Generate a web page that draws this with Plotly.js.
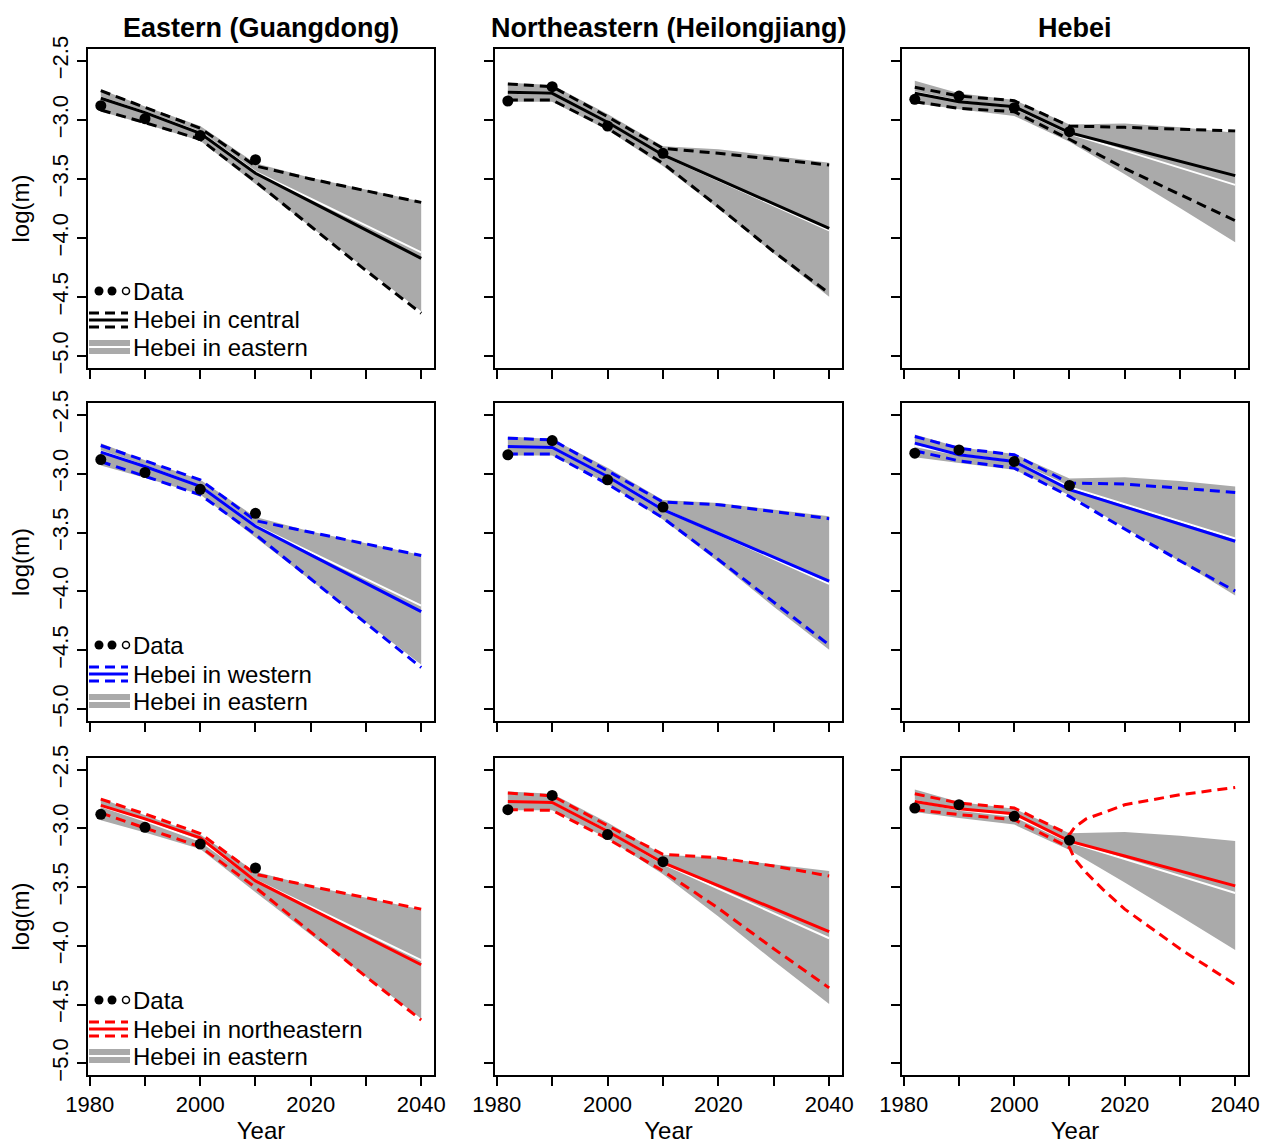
<!DOCTYPE html>
<html>
<head>
<meta charset="utf-8">
<script src="https://cdn.plot.ly/plotly-3.0.1.min.js"></script>
<style>html,body{margin:0;padding:0;background:#fff;}#chart{width:1270px;height:1144px;}</style>
</head>
<body>
<div id="chart"></div>
<script>
// ---------------- DATA ----------------
const YEARS = [1982, 1990, 2000, 2010, 2020, 2030, 2040];
const YEARS_FINE = [1982, 1990, 2000, 2010, 2011, 2013, 2016, 2020, 2030, 2040];
const DATA_YEARS = [1982, 1990, 2000, 2010];

const COL_TITLES = ["Eastern (Guangdong)", "Northeastern (Heilongjiang)", "Hebei"];
const ALT_LABELS = ["Hebei in central", "Hebei in western", "Hebei in northeastern"];
const EAST_LABEL = "Hebei in eastern";
const DATA_LABEL = "Data";
const X_TICKS = [1980, 1990, 2000, 2010, 2020, 2030, 2040];
const X_TICKTEXT = ["1980", "", "2000", "", "2020", "", "2040"];
const Y_TICKS = [-5.0, -4.5, -4.0, -3.5, -3.0, -2.5];

// observed data points
const DATA_GD  = [-2.880, -2.990, -3.133, -3.337];
const DATA_HLJ = [-2.840, -2.719, -3.052, -3.283];
const DATA_HB  = [-2.826, -2.798, -2.897, -3.100];

// "Hebei in eastern" model (grey band + white median), per column
const EAST_GD_HI  = [-2.742, -2.887, -3.052, -3.368, -3.490, -3.590, -3.690];
const EAST_GD_LO  = [-2.930, -3.035, -3.176, -3.543, -3.905, -4.265, -4.620];
const EAST_GD_MED = [-2.810, -2.935, -3.105, -3.440, -3.667, -3.893, -4.121];

const EAST_HLJ_HI  = [-2.685, -2.705, -2.950, -3.224, -3.249, -3.306, -3.362];
const EAST_HLJ_LO  = [-2.846, -2.846, -3.086, -3.390, -3.749, -4.130, -4.496];
const EAST_HLJ_MED = [-2.770, -2.780, -3.020, -3.300, -3.512, -3.724, -3.935];

const EAST_HB_HI  = [-2.668, -2.775, -2.832, -3.040, -3.030, -3.062, -3.108];
const EAST_HB_LO  = [-2.860, -2.910, -2.967, -3.184, -3.460, -3.745, -4.035];
const EAST_HB_MED = [-2.765, -2.840, -2.895, -3.115, -3.260, -3.405, -3.550];

// "Hebei in central" model (black)
const CENT_GD_MED = [-2.817, -2.939, -3.114, -3.452, -3.692, -3.932, -4.172];
const CENT_GD_HI  = [-2.753, -2.897, -3.071, -3.390, -3.500, -3.600, -3.698];
const CENT_GD_LO  = [-2.916, -3.023, -3.164, -3.523, -3.900, -4.275, -4.637];
const CENT_HLJ_MED = [-2.767, -2.775, -3.020, -3.297, -3.504, -3.711, -3.918];
const CENT_HLJ_HI  = [-2.696, -2.719, -2.973, -3.241, -3.283, -3.334, -3.382];
const CENT_HLJ_LO  = [-2.832, -2.832, -3.071, -3.368, -3.735, -4.116, -4.468];
const CENT_HB_MED = [-2.775, -2.846, -2.888, -3.108, -3.229, -3.351, -3.472];
const CENT_HB_HI  = [-2.724, -2.798, -2.838, -3.052, -3.063, -3.080, -3.094];
const CENT_HB_LO  = [-2.846, -2.902, -2.931, -3.164, -3.410, -3.630, -3.853];

// "Hebei in western" model (blue)
const WEST_GD_MED = [-2.817, -2.939, -3.108, -3.447, -3.689, -3.930, -4.172];
const WEST_GD_HI  = [-2.761, -2.891, -3.052, -3.399, -3.498, -3.596, -3.695];
const WEST_GD_LO  = [-2.897, -3.024, -3.179, -3.517, -3.895, -4.272, -4.646];
const WEST_HLJ_MED = [-2.770, -2.778, -3.024, -3.306, -3.508, -3.710, -3.912];
const WEST_HLJ_HI  = [-2.699, -2.713, -2.976, -3.241, -3.263, -3.325, -3.382];
const WEST_HLJ_LO  = [-2.834, -2.834, -3.088, -3.376, -3.729, -4.095, -4.454];
const WEST_HB_MED = [-2.741, -2.840, -2.897, -3.136, -3.282, -3.428, -3.574];
const WEST_HB_HI  = [-2.685, -2.784, -2.840, -3.080, -3.088, -3.122, -3.159];
const WEST_HB_LO  = [-2.806, -2.891, -2.953, -3.193, -3.470, -3.740, -3.997];

// "Hebei in northeastern" model (red)
const NE_GD_MED = [-2.804, -2.919, -3.080, -3.447, -3.685, -3.923, -4.161];
const NE_GD_HI  = [-2.750, -2.877, -3.043, -3.390, -3.492, -3.590, -3.687];
const NE_GD_LO  = [-2.868, -2.995, -3.156, -3.503, -3.885, -4.262, -4.632];
const NE_HLJ_MED = [-2.770, -2.778, -3.024, -3.292, -3.487, -3.683, -3.878];
const NE_HLJ_HI  = [-2.699, -2.722, -2.976, -3.221, -3.249, -3.320, -3.405];
const NE_HLJ_LO  = [-2.840, -2.846, -3.088, -3.362, -3.680, -4.025, -4.358];
const NE_HB_MED = [-2.770, -2.832, -2.874, -3.108, -3.235, -3.362, -3.489];
const NE_HB_HI  = [-2.705, -2.784, -2.826, -3.052, -2.987, -2.919, -2.868, -2.798, -2.713, -2.651]; // YEARS_FINE
const NE_HB_LO  = [-2.840, -2.882, -2.925, -3.164, -3.263, -3.376, -3.517, -3.687, -4.025, -4.330]; // YEARS_FINE

// ---------------- PANEL SETUP ----------------
const COLORS = ["#000000", "#0000FF", "#FF0000"];
const DATA_BY_COL = [DATA_GD, DATA_HLJ, DATA_HB];
const EAST_BY_COL = [
  {hi: EAST_GD_HI, lo: EAST_GD_LO, med: EAST_GD_MED},
  {hi: EAST_HLJ_HI, lo: EAST_HLJ_LO, med: EAST_HLJ_MED},
  {hi: EAST_HB_HI, lo: EAST_HB_LO, med: EAST_HB_MED}
];
const ALT = [
  [ {med: CENT_GD_MED, hi: CENT_GD_HI, lo: CENT_GD_LO},
    {med: CENT_HLJ_MED, hi: CENT_HLJ_HI, lo: CENT_HLJ_LO},
    {med: CENT_HB_MED, hi: CENT_HB_HI, lo: CENT_HB_LO} ],
  [ {med: WEST_GD_MED, hi: WEST_GD_HI, lo: WEST_GD_LO},
    {med: WEST_HLJ_MED, hi: WEST_HLJ_HI, lo: WEST_HLJ_LO},
    {med: WEST_HB_MED, hi: WEST_HB_HI, lo: WEST_HB_LO} ],
  [ {med: NE_GD_MED, hi: NE_GD_HI, lo: NE_GD_LO},
    {med: NE_HLJ_MED, hi: NE_HLJ_HI, lo: NE_HLJ_LO},
    {med: NE_HB_MED, hi: NE_HB_HI, lo: NE_HB_LO, hiX: YEARS_FINE, loX: YEARS_FINE} ]
];

const W = 1270, H = 1144;
const ML = 88, MR = 22, MT = 49, MB = 69;
const PW = W - ML - MR, PH = H - MT - MB;
const COL_PX = [[88, 434], [495, 842], [902, 1248]];
const ROW_PX = [[49, 368], [403, 721], [758, 1075]];
const fx = px => (px - ML) / PW;
const fy = py => (H - MB - py) / PH;

const FONT = "Liberation Sans, Arial, Helvetica, sans-serif";
const DASH = "10px,6px";

const traces = [];
const layout = {
  width: W, height: H,
  margin: {l: ML, r: MR, t: MT, b: MB, pad: 0},
  paper_bgcolor: "#ffffff", plot_bgcolor: "#ffffff",
  showlegend: false,
  font: {family: FONT, color: "#000000", size: 22},
  shapes: [], annotations: []
};

for (let r = 0; r < 3; r++) {
  for (let c = 0; c < 3; c++) {
    const p = r * 3 + c;
    const sfx = p === 0 ? "" : String(p + 1);
    const xa = "x" + sfx, ya = "y" + sfx;
    const east = EAST_BY_COL[c];
    const alt = ALT[r][c];
    const col = COLORS[r];
    // grey band
    traces.push({
      type: "scatter", mode: "lines", xaxis: xa, yaxis: ya,
      x: YEARS.concat(YEARS.slice().reverse()),
      y: east.hi.concat(east.lo.slice().reverse()),
      fill: "toself", fillcolor: "#AAAAAA",
      line: {width: 0, color: "rgba(0,0,0,0)"}, hoverinfo: "skip"
    });
    // white median of eastern model
    traces.push({
      type: "scatter", mode: "lines", xaxis: xa, yaxis: ya,
      x: YEARS, y: east.med, line: {color: "#FFFFFF", width: 2}, hoverinfo: "skip"
    });
    // alternative model bounds (dashed)
    traces.push({
      type: "scatter", mode: "lines", xaxis: xa, yaxis: ya,
      x: alt.hiX || YEARS, y: alt.hi, line: {color: col, width: 3, dash: DASH}
    });
    traces.push({
      type: "scatter", mode: "lines", xaxis: xa, yaxis: ya,
      x: alt.loX || YEARS, y: alt.lo, line: {color: col, width: 3, dash: DASH}
    });
    // alternative median (solid)
    traces.push({
      type: "scatter", mode: "lines", xaxis: xa, yaxis: ya,
      x: YEARS, y: alt.med, line: {color: col, width: 3}
    });
    // observed data
    traces.push({
      type: "scatter", mode: "markers", xaxis: xa, yaxis: ya,
      x: DATA_YEARS, y: DATA_BY_COL[c],
      marker: {color: "#000000", size: 11, line: {width: 0}}
    });

    const common = {
      showline: true, mirror: true, linecolor: "#000000", linewidth: 2,
      ticks: "outside", ticklen: 9, tickwidth: 2, tickcolor: "#000000",
      showgrid: false, zeroline: false, fixedrange: true,
      tickfont: {family: FONT, size: 22, color: "#000000"}
    };
    layout["xaxis" + sfx] = Object.assign({}, common, {
      domain: [fx(COL_PX[c][0]), fx(COL_PX[c][1])],
      anchor: ya, range: [1979.68, 2042.32],
      tickmode: "array", tickvals: X_TICKS, ticktext: X_TICKTEXT,
      showticklabels: r === 2,
      title: r === 2 ? {text: "Year", font: {family: FONT, size: 24}, standoff: 9} : {text: ""}
    });
    layout["yaxis" + sfx] = Object.assign({}, common, {
      domain: [fy(ROW_PX[r][1]), fy(ROW_PX[r][0])],
      anchor: xa, range: [-5.1, -2.4],
      tickmode: "array", tickvals: Y_TICKS, tickformat: ".1f",
      tickangle: -90,
      showticklabels: c === 0,
      title: c === 0 ? {text: "log(m)", font: {family: FONT, size: 24}, standoff: 12} : {text: ""}
    });
  }

  // legend inside first column panel of each row
  const top = ROW_PX[r][0];
  const col = COLORS[r];
  const yData = top + 242, yAlt = top + 271, yEast = top + 298;
  // dots
  [[99, 4.5, true], [112, 4.5, true], [126, 3.5, false]].forEach(([cx, rr, filled]) => {
    layout.shapes.push({
      type: "circle", xref: "paper", yref: "paper",
      x0: fx(cx - rr), x1: fx(cx + rr), y0: fy(yData + rr), y1: fy(yData - rr),
      fillcolor: filled ? "#000000" : "#FFFFFF",
      line: {color: "#000000", width: filled ? 0 : 1.5}
    });
  });
  // alt model key
  [[-7, DASH], [0, "solid"], [7, DASH]].forEach(([dy, d]) => {
    layout.shapes.push({
      type: "line", xref: "paper", yref: "paper",
      x0: fx(89), x1: fx(128), y0: fy(yAlt + dy), y1: fy(yAlt + dy),
      line: {color: col, width: 3, dash: d}
    });
  });
  // eastern key
  layout.shapes.push({
    type: "rect", xref: "paper", yref: "paper",
    x0: fx(89), x1: fx(130), y0: fy(yEast + 7), y1: fy(yEast - 7),
    fillcolor: "#AAAAAA", line: {width: 0}
  });
  layout.shapes.push({
    type: "line", xref: "paper", yref: "paper",
    x0: fx(89), x1: fx(130), y0: fy(yEast), y1: fy(yEast),
    line: {color: "#FFFFFF", width: 2}
  });
  [[yData, DATA_LABEL], [yAlt, ALT_LABELS[r]], [yEast, EAST_LABEL]].forEach(([yy, t]) => {
    layout.annotations.push({
      xref: "paper", yref: "paper", x: fx(131), y: fy(yy),
      xanchor: "left", yanchor: "middle", showarrow: false,
      text: t, font: {family: FONT, size: 24, color: "#000000"}
    });
  });
}

// column titles
for (let c = 0; c < 3; c++) {
  layout.annotations.push({
    xref: "paper", yref: "paper",
    x: fx((COL_PX[c][0] + COL_PX[c][1]) / 2), y: fy(28),
    xanchor: "center", yanchor: "middle", showarrow: false,
    text: "<b>" + COL_TITLES[c] + "</b>",
    font: {family: FONT, size: 27, color: "#000000"}
  });
}

Plotly.newPlot("chart", traces, layout, {displayModeBar: false, staticPlot: true});
</script>
</body>
</html>
